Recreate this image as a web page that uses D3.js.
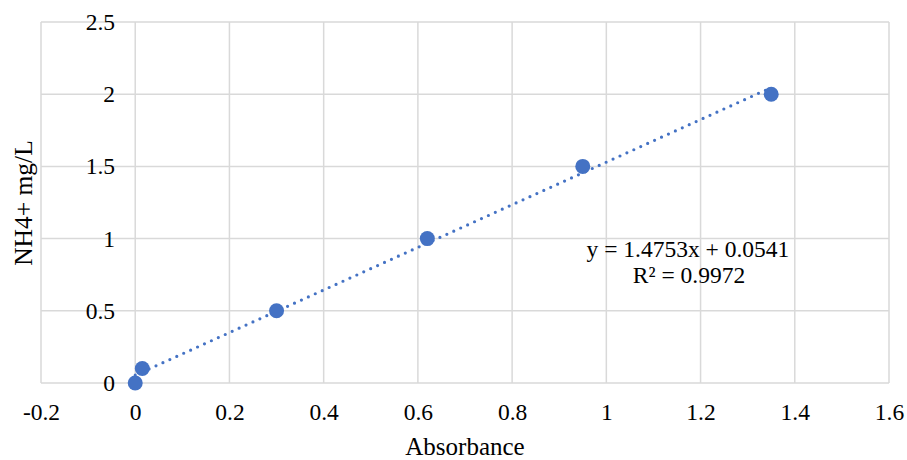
<!DOCTYPE html>
<html lang="en">
<head>
    <meta charset="utf-8">
    <title>NH4+ calibration</title>
    <script type="text/javascript" src="https://d3js.org/d3.v7.min.js"></script>
    <style>
        body { margin: 0; background: #fff; }
        text { font-family: "Liberation Serif", "Times New Roman", serif; fill: #000; }
        .grid line { stroke: #d9d9d9; stroke-width: 1.5; }
        .domain { display: none; }
    </style>
</head>
<body>
    <div id="chart"></div>
    <script type="text/javascript">
        const width = 907;
        const height = 460;
        const margin = ({ left: 41, right: 18, top: 22, bottom: 77 });

        // data
        const absorbance = [0, 0.015, 0.3, 0.62, 0.95, 1.35];
        const nh4 = [0, 0.1, 0.5, 1.0, 1.5, 2.0];
        const xTicks = [-0.2, 0, 0.2, 0.4, 0.6, 0.8, 1, 1.2, 1.4, 1.6];
        const yTicks = [0, 0.5, 1, 1.5, 2, 2.5];
        const slope = 1.4753;
        const intercept = 0.0541;
        const rSquared = 0.9972;

        const svg = d3.select("#chart")
            .append("svg")
            .attr("width", width)
            .attr("height", height);

        const x = d3.scaleLinear()
            .domain([-0.2, 1.6])
            .range([margin.left, width - margin.right]);
        const y = d3.scaleLinear()
            .domain([0, 2.5])
            .range([height - margin.bottom, margin.top]);

        // vertical grid
        svg.append("g")
            .attr("class", "grid")
            .selectAll("line")
            .data(xTicks)
            .enter()
            .append("line")
            .attr("x1", d => x(d)).attr("x2", d => x(d))
            .attr("y1", y(0)).attr("y2", y(2.5));

        // horizontal grid
        svg.append("g")
            .attr("class", "grid")
            .selectAll("line")
            .data(yTicks)
            .enter()
            .append("line")
            .attr("x1", x(-0.2)).attr("x2", x(1.6))
            .attr("y1", d => y(d)).attr("y2", d => y(d));

        // x axis labels
        const xAxis = d3.axisBottom(x)
            .tickValues(xTicks)
            .tickSize(0)
            .tickPadding(20)
            .tickFormat(d => String(d));
        svg.append("g")
            .attr("transform", `translate(0, ${y(0)})`)
            .call(xAxis)
            .selectAll("text")
            .attr("font-size", 23.5)
            .attr("font-family", "Liberation Serif")
            .attr("dy", "0.71em");

        // y axis labels
        const yAxis = d3.axisLeft(y)
            .tickValues(yTicks)
            .tickSize(0)
            .tickPadding(0)
            .tickFormat(d => String(d));
        svg.append("g")
            .attr("transform", `translate(115, 0)`)
            .call(yAxis)
            .selectAll("text")
            .attr("font-size", 23.5)
            .attr("font-family", "Liberation Serif");

        // trendline (dotted, over the data range)
        const xr = d3.extent(absorbance);
        svg.append("line")
            .attr("x1", x(xr[0])).attr("y1", y(slope * xr[0] + intercept))
            .attr("x2", x(xr[1])).attr("y2", y(slope * xr[1] + intercept))
            .attr("stroke", "#4472C4")
            .attr("stroke-width", 3.2)
            .attr("stroke-linecap", "round")
            .attr("stroke-dasharray", "0 7.6");

        // points
        svg.append("g")
            .selectAll("circle")
            .data(absorbance.map((d, i) => ({ a: d, c: nh4[i] })))
            .enter()
            .append("circle")
            .attr("cx", d => x(d.a))
            .attr("cy", d => y(d.c))
            .attr("r", 7.5)
            .attr("fill", "#4472C4");

        // equation
        const eq = svg.append("text")
            .attr("text-anchor", "middle")
            .attr("font-size", 23.5);
        eq.append("tspan")
            .attr("x", 688).attr("y", 257)
            .text(`y = ${slope}x + ${intercept}`);
        eq.append("tspan")
            .attr("x", 689).attr("y", 283)
            .text(`R² = ${rSquared}`);

        // axis titles
        svg.append("text")
            .attr("x", 465)
            .attr("y", 455)
            .attr("text-anchor", "middle")
            .attr("font-size", 25)
            .text("Absorbance");

        svg.append("text")
            .attr("transform", "translate(32, 203) rotate(-90)")
            .attr("text-anchor", "middle")
            .attr("font-size", 25.5)
            .text("NH4+ mg/L");
    </script>
</body>
</html>
